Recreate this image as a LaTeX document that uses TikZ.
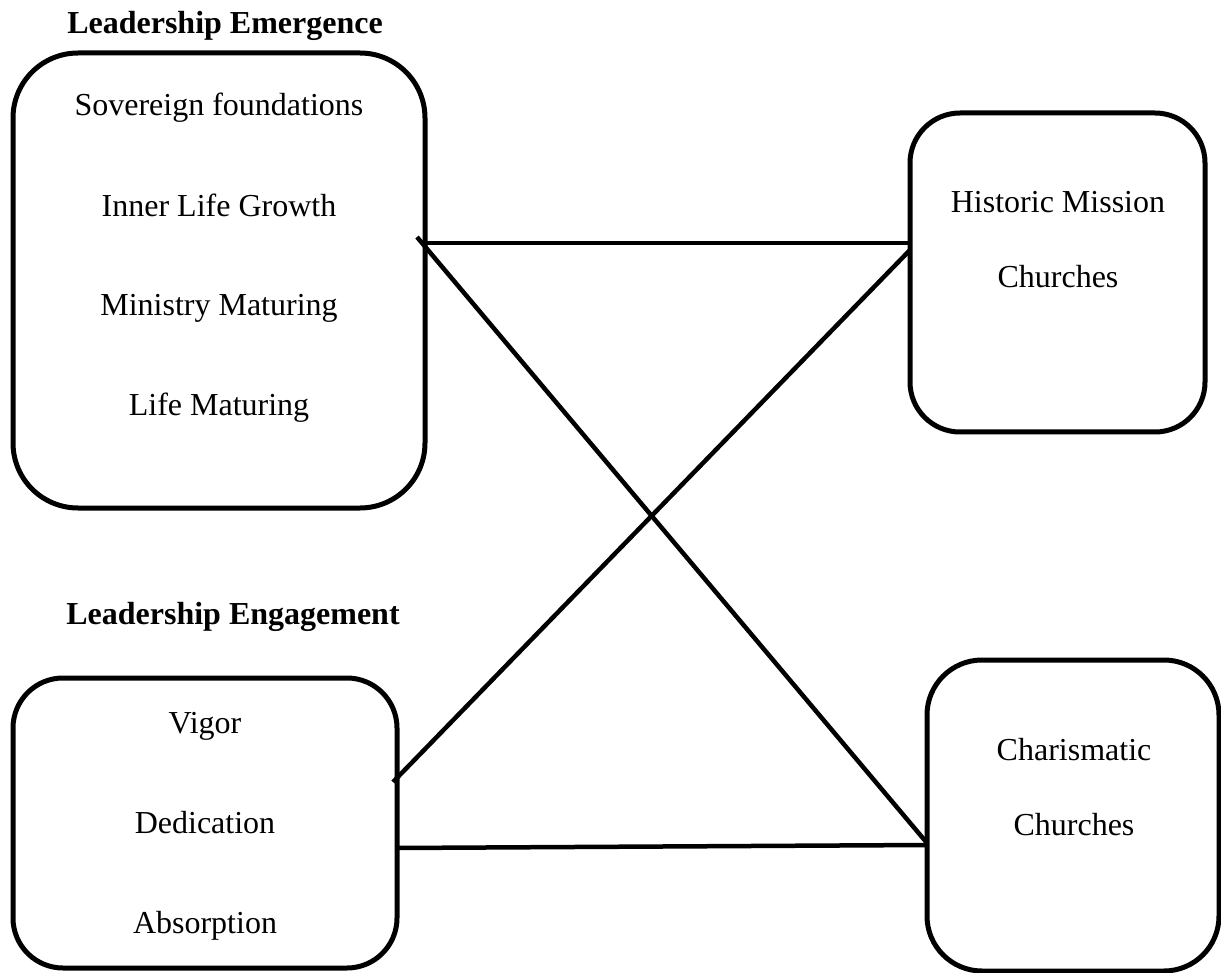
\documentclass[tikz,border=0pt]{standalone}
\usepackage{fontspec}
\setmainfont{Liberation Serif}
\begin{document}
\begin{tikzpicture}[x=1pt,y=-1pt,
  box/.style={draw=black, line width=5pt, inner sep=0pt},
  txt/.style={anchor=base, inner sep=0pt, font=\fontsize{32}{38}\selectfont},
  ttl/.style={anchor=base, inner sep=0pt, font=\fontsize{32}{38}\selectfont\bfseries},
  link/.style={draw=black, line width=4.5pt}]
\path[use as bounding box, fill=white] (0,0) rectangle (1221,973);
% boxes
\draw[box, rounded corners=65pt] (13,53) rectangle (425,508);
\node[inner sep=0pt, minimum width=412pt, minimum height=455pt] (b1) at (219,280.5) {};
\draw[box, rounded corners=50pt] (910,113) rectangle (1205,432);
\node[inner sep=0pt, minimum width=295pt, minimum height=319pt] (b2) at (1057.5,272.5) {};
\draw[box, rounded corners=50pt] (13,678) rectangle (397,968);
\node[inner sep=0pt, minimum width=384pt, minimum height=290pt] (b3) at (205,823) {};
\draw[box, rounded corners=55pt] (927,660) rectangle (1219,971);
\node[inner sep=0pt, minimum width=292pt, minimum height=311pt] (b4) at (1073,815.5) {};
% titles
\node[ttl] (t1) at (225,34) {Leadership Emergence};
\node[ttl] (t2) at (233,624) {Leadership Engagement};
% texts
\node[txt] (s1) at (219,116) {Sovereign foundations};
\node[txt] (s2) at (219,217) {Inner Life Growth};
\node[txt] (s3) at (219,316) {Ministry Maturing};
\node[txt] (s4) at (219,416) {Life Maturing};
\node[txt] (h1) at (1058,213) {Historic Mission};
\node[txt] (h2) at (1058,288) {Churches};
\node[txt] (e1) at (205,733) {Vigor};
\node[txt] (e2) at (205,833) {Dedication};
\node[txt] (e3) at (205,933) {Absorption};
\node[txt] (c1) at (1074,760) {Charismatic};
\node[txt] (c2) at (1074,835) {Churches};
% connector end points
\coordinate (a1) at (425,243);
\coordinate (a2) at (910,243);
\coordinate (d1) at (417,237);
\coordinate (d2) at (927,843);
\coordinate (g1) at (393,782);
\coordinate (g2) at (910,250);
\coordinate (k1) at (397,848);
\coordinate (k2) at (927,845);
\draw[link] (a1) -- (a2);
\draw[link] (d1) -- (d2);
\draw[link] (g1) -- (g2);
\draw[link] (k1) -- (k2);
\end{tikzpicture}
\end{document}
